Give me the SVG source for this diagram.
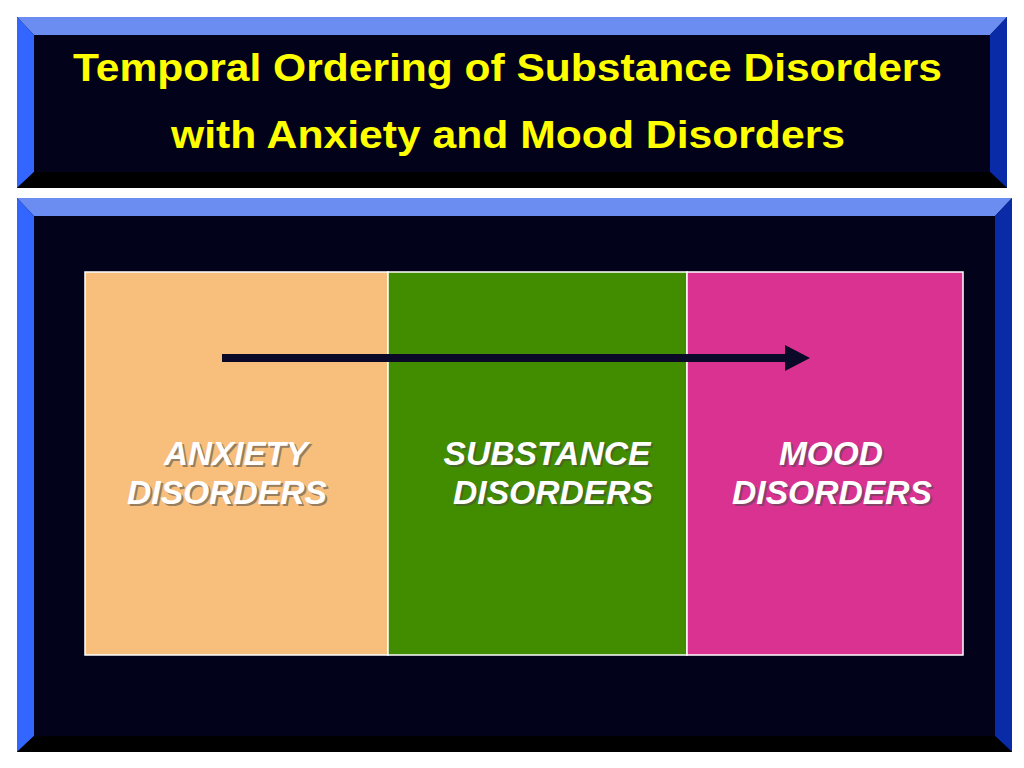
<svg xmlns="http://www.w3.org/2000/svg" width="1024" height="768" viewBox="0 0 1024 768">
<defs>
<style>
.inner{fill:#02021A}
.bt{fill:#6B8DF2}
.bl{fill:#3366FF}
.br{fill:#0A2BA8}
.bb{fill:#000000}
.title{font-family:"Liberation Sans",Arial,sans-serif;font-weight:bold;font-size:39px;fill:#FFFF00;text-anchor:middle}
.lbl{font-family:"Liberation Sans",Arial,sans-serif;font-weight:bold;font-style:italic;font-size:33px;text-anchor:middle}
.fg{fill:#FFFFFF}
.sh{fill:#4a4a4a;opacity:0.55}
.box{stroke:#FFFFFF;stroke-width:1.5}
</style>
<marker id="ah" markerUnits="userSpaceOnUse" markerWidth="26" markerHeight="26" refX="1" refY="13" orient="auto">
<path d="M0,0 L25,13 L0,26 z" fill="#0A0A28"/>
</marker>
</defs>
<rect width="1024" height="768" fill="#FFFFFF"/>
<g id="title-panel">
<rect x="17" y="17" width="990" height="171" class="inner"/>
<polygon class="bt" points="17,17 1007,17 990,35 34,35"/>
<polygon class="bl" points="17,17 34,35 34,172 17,188"/>
<polygon class="br" points="1007,17 1007,188 990,172 990,35"/>
<polygon class="bb" points="17,188 34,172 990,172 1007,188"/>
<text class="title" x="507.5" y="81" textLength="869" lengthAdjust="spacingAndGlyphs">Temporal Ordering of Substance Disorders</text>
<text class="title" x="508" y="148" textLength="674" lengthAdjust="spacingAndGlyphs">with Anxiety and Mood Disorders</text>
</g>
<g id="main-panel">
<rect x="17" y="198" width="995" height="554" class="inner"/>
<polygon class="bt" points="17,198 1012,198 995,216 34,216"/>
<polygon class="bl" points="17,198 34,216 34,736 17,752"/>
<polygon class="br" points="1012,198 1012,752 995,736 995,216"/>
<polygon class="bb" points="17,752 34,736 995,736 1012,752"/>
</g>
<g id="anxiety">
<rect class="box" x="85" y="272" width="303" height="383" fill="#F7BE7C"/>
<text class="lbl sh" x="238" y="467" textLength="144" lengthAdjust="spacingAndGlyphs">ANXIETY</text>
<text class="lbl fg" x="236" y="465" textLength="144" lengthAdjust="spacingAndGlyphs">ANXIETY</text>
<text class="lbl sh" x="229" y="506" textLength="200" lengthAdjust="spacingAndGlyphs">DISORDERS</text>
<text class="lbl fg" x="227" y="504" textLength="200" lengthAdjust="spacingAndGlyphs">DISORDERS</text>
</g>
<g id="substance">
<rect class="box" x="388" y="272" width="299" height="383" fill="#428C00"/>
<text class="lbl sh" x="549" y="467" textLength="207" lengthAdjust="spacingAndGlyphs">SUBSTANCE</text>
<text class="lbl fg" x="547" y="465" textLength="207" lengthAdjust="spacingAndGlyphs">SUBSTANCE</text>
<text class="lbl sh" x="555" y="506" textLength="200" lengthAdjust="spacingAndGlyphs">DISORDERS</text>
<text class="lbl fg" x="553" y="504" textLength="200" lengthAdjust="spacingAndGlyphs">DISORDERS</text>
</g>
<g id="mood">
<rect class="box" x="687" y="272" width="276" height="383" fill="#DA3290"/>
<text class="lbl sh" x="833" y="467" textLength="104" lengthAdjust="spacingAndGlyphs">MOOD</text>
<text class="lbl fg" x="831" y="465" textLength="104" lengthAdjust="spacingAndGlyphs">MOOD</text>
<text class="lbl sh" x="834" y="506" textLength="200" lengthAdjust="spacingAndGlyphs">DISORDERS</text>
<text class="lbl fg" x="832" y="504" textLength="200" lengthAdjust="spacingAndGlyphs">DISORDERS</text>
</g>
<g id="connectors">
<line x1="222" y1="358" x2="786" y2="358" stroke="#0A0A28" stroke-width="8" marker-end="url(#ah)"/>
</g>
</svg>
